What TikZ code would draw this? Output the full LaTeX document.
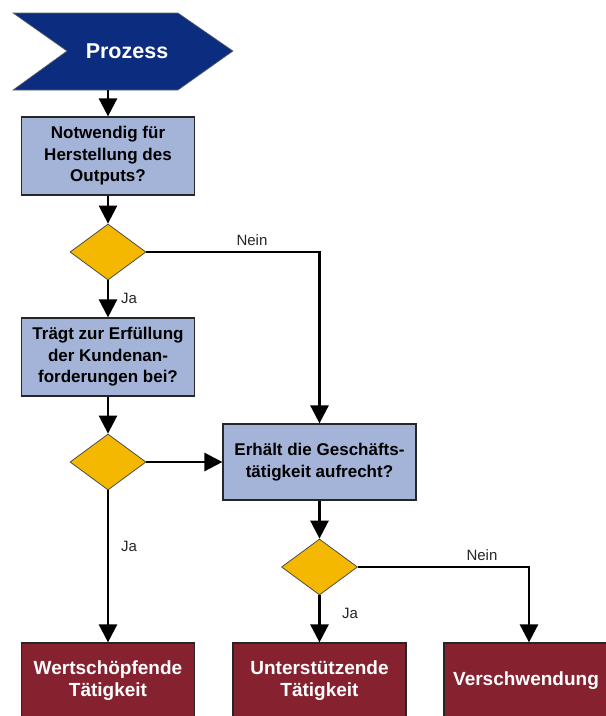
\documentclass[tikz,border=0pt]{standalone}
\usepackage{fontspec}
\setmainfont{Liberation Sans}
\usetikzlibrary{shapes.geometric,arrows.meta}
\definecolor{navy}{HTML}{0C2C80}
\definecolor{qbox}{HTML}{A4B4D8}
\definecolor{decide}{HTML}{F5B800}
\definecolor{result}{HTML}{862230}
\tikzset{
  question/.style={rectangle,draw=black!85,line width=1.2pt,fill=qbox,
    minimum width=173pt,minimum height=78pt,align=center,
    font=\bfseries\fontsize{17}{21.5}\selectfont,inner sep=1pt},
  decision/.style={diamond,draw=black!70,line width=0.8pt,fill=decide,
    minimum width=76pt,minimum height=56pt,inner sep=0pt},
  outcome/.style={rectangle,draw=black!85,line width=1.2pt,fill=result,
    minimum width=173pt,minimum height=76pt,align=center,text=white,
    font=\bfseries\fontsize{19}{22}\selectfont,inner sep=1pt},
  flow/.style={line width=2.6pt,-{Triangle[width=18pt,length=18pt]}},
  lbl/.style={font=\fontsize{15}{17}\selectfont,text=black!85},
}
\begin{document}
\begin{tikzpicture}[x=1pt,y=-1pt]
\useasboundingbox (0,0) rectangle (606,716);
\fill[white] (0,0) rectangle (606,716);

% start chevron
\fill[navy,draw=black!60,line width=0.6pt]
  (13,13) -- (178,13) -- (233,51) -- (178,90) -- (13,90) -- (67,51) -- cycle;
\node[text=white,font=\bfseries\fontsize{21.5}{24}\selectfont] (proz) at (127,51) {Prozess};
\coordinate (prozout) at (108,90);

% questions
\node[question] (b1) at (108,156) {Notwendig für\\Herstellung des\\Outputs?};
\node[decision] (d1) at (108,252) {};
\node[question] (b2) at (108,357) {Trägt zur Erfüllung\\der Kundenan-\\forderungen bei?};
\node[decision] (d2) at (108,462) {};
\node[question,minimum width=193pt,minimum height=76pt] (b3) at (319.5,462) {Erhält die Geschäfts-\\tätigkeit aufrecht?};
\node[decision] (d3) at (319.5,567) {};

% outcomes
\node[outcome] (b4) at (108,681) {Wertschöpfende\\Tätigkeit};
\node[outcome] (b5) at (319.5,681) {Unterstützende\\Tätigkeit};
\node[outcome,minimum width=170pt] (b6) at (529,681) {};
\node[text=white,font=\bfseries\fontsize{19}{22}\selectfont] (b6t) at (526,681) {Verschwendung};

% connectors
\draw[flow] (prozout) -- (b1.north);
\draw[flow] (b1.south) -- (d1.north);
\draw[flow] (d1.south) -- (b2.north);
\draw[flow] (d1.east) -| (b3.north);
\draw[flow] (b2.south) -- (d2.north);
\draw[flow] (d2.east) -- (b3.west);
\draw[flow] (d2.south) -- (b4.north);
\draw[flow] (b3.south) -- (d3.north);
\draw[flow] (d3.south) -- (b5.north);
\draw[flow] (d3.east) -| (b6.north);

% branch labels
\node[lbl] (n1) at (252,240) {Nein};
\node[lbl] (j1) at (129,298) {Ja};
\node[lbl] (j2) at (129,546) {Ja};
\node[lbl] (n2) at (482,555) {Nein};
\node[lbl] (j3) at (350,613) {Ja};
\end{tikzpicture}
\end{document}
